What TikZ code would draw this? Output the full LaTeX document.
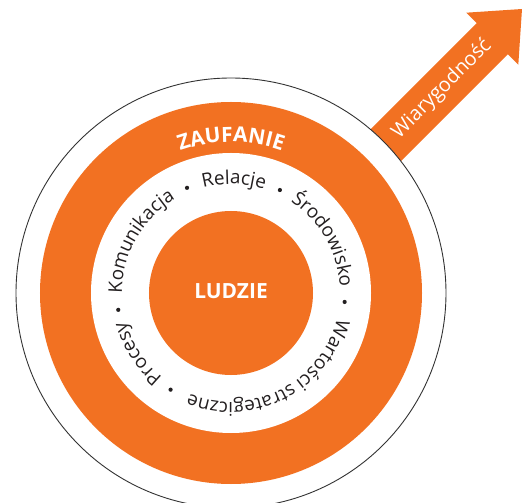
\documentclass[tikz,border=0pt]{standalone}
\usepackage{fontspec}
\setmainfont{Open Sans}
\usetikzlibrary{decorations.text}

\definecolor{RingOrange}{RGB}{242,113,34}
\definecolor{TextDark}{RGB}{35,31,32}
\definecolor{LineDark}{RGB}{50,50,50}

\newcommand{\wordfont}{\fontsize{19}{19}\selectfont}
\newcommand{\ringword}[3]{%
  \path[decorate, decoration={text along path, text align=center, text color=TextDark,
    text={|\wordfont|#1}}] (#2:109) arc[start angle=#2, end angle=#3, radius=109];}

\begin{document}
\begin{tikzpicture}[x=1bp, y=1bp,
    ring/.style={fill=RingOrange},
    hole/.style={fill=white},
    label/.style={text=white, font=\bfseries\fontsize{21}{21}\selectfont}
  ]
    \useasboundingbox (-231,-210) rectangle (291,293);

    % Arrow
    \coordinate (tail1) at (83.4,107.6);
    \coordinate (tail2) at (114.6,76.4);
    \coordinate (neck1) at (245.7,269.9);
    \coordinate (neck2) at (276.9,238.7);
    \coordinate (barb1) at (235.3,280.3);
    \coordinate (barb2) at (287.3,228.3);
    \coordinate (tip) at (291,284);
    \fill[ring] (tail1) -- (neck1) -- (barb1) -- (tip) -- (barb2) -- (neck2) -- (tail2) -- cycle;
    \node[rotate=45, text=white, font=\fontsize{20}{20}\selectfont] (trust) at (211,204) {Wiarygodność};

    % Circles
    \filldraw[fill=white, draw=LineDark, line width=0.9bp] (0,0) circle[radius=215];
    \fill[ring] (0,0) circle[radius=191];
    \fill[hole] (0,0) circle[radius=140];
    \fill[ring] (0,0) circle[radius=82];

    % Labels
    \node[label] (people) at (0,2) {LUDZIE};
    \path[decorate, decoration={text along path, text align=center, text color=white,
      text={|\bfseries\fontsize{21}{21}\selectfont|ZAUFANIE}}] (130:151) arc[start angle=130, end angle=50, radius=151];

    % Ring words
    \ringword{Procesy}{236}{190}
    \ringword{Komunikacja}{186}{115}
    \ringword{Relacje}{110}{67}
    \ringword{Środowisko}{62}{-2}
    \ringword{Wartości strategiczne}{-7}{-119}
    \foreach \a in {188.5,112.7,64.6,-4.5,-122}
      \fill[TextDark] (\a:114) circle[radius=2.1];
  \end{tikzpicture}
\end{document}
